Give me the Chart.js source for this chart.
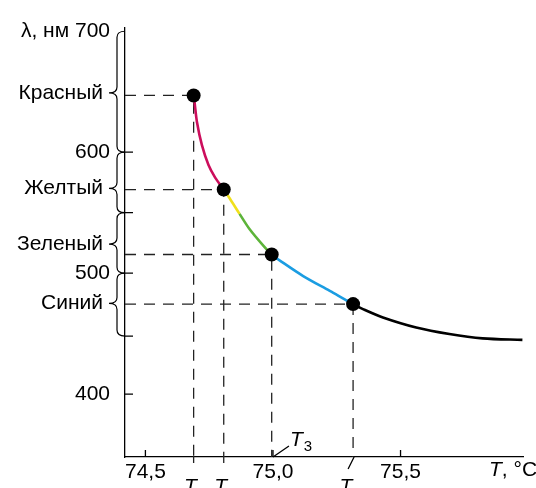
<!DOCTYPE html>
<html>
<head>
<meta charset="utf-8">
<script src="https://cdn.jsdelivr.net/npm/chart.js@4.4.1/dist/chart.umd.min.js"></script>
<style>
body { margin: 0; background: #fff; }
#wrap { width: 536px; height: 488px; }
</style>
</head>
<body>
<div id="wrap"><canvas id="myChart"></canvas></div>
<script>
// curve: temperature (°C) and wavelength (nm)
const curveT = [74.689, 74.6926, 74.702, 74.7215, 74.7473, 74.7734, 74.807, 74.832, 74.8691, 74.9102, 74.9621, 74.995,
    75.0402, 75.1184, 75.2227, 75.314, 75.3527, 75.4309, 75.5613, 75.6914, 75.8215, 75.9777];
const curveL = [646.9, 641.4, 625.0, 605.8, 589.4, 579.0, 569.1, 561.3, 549.0, 535.8, 522.7, 515.4,
    508.5, 497.6, 485.3, 474.4, 470.3, 463.4, 455.1, 449.7, 446.1, 444.8];

// marked points T2, T0, T3, T1
const pointNames = ['2', '0', '3', '1'];
const pointT = [74.689, 74.807, 74.995, 75.314];
const pointL = [646.9, 569.1, 515.4, 474.4];

// colour bands along the wavelength axis
const bandNames = ['Красный', 'Желтый', 'Зеленый', 'Синий'];
const bandTop = [700, 600, 550, 500];
const bandBottom = [600, 550, 500, 448];
const bandMid = [649, 570, 524, 475];
const bandColors = ['#cc0e5c', '#f0e01c', '#5db43a', '#1b9de2'];
// the curve changes colour where lambda reaches these values
const colorBreaks = [569.1, 549.0, 515.4, 474.4];

const xTicks = [74.5, 75.0, 75.5];
const yTicks = [400, 500, 600, 700];
const xMin = 74.42, xMax = 75.98;
const yMin = 348, yMax = 703;

const FONT = '"Liberation Sans", Arial, sans-serif';
const DASH = [11, 8];

function curveColor(ctx) {
    let v = ctx.p0.parsed.y;
    let n = 0;
    for (let i = 0; i < colorBreaks.length; i++) {
        if (v <= colorBreaks[i]) n = i + 1;
    }
    return n < bandColors.length ? bandColors[n] : '#000';
}

function drawT(ctx, x, y, sub, align) {
    ctx.font = 'italic 21px ' + FONT;
    let w1 = ctx.measureText('T').width;
    ctx.font = '15px ' + FONT;
    let w2 = ctx.measureText(sub).width;
    let x0 = align === 'center' ? x - (w1 + w2) / 2 : x;
    ctx.textAlign = 'left';
    ctx.textBaseline = 'alphabetic';
    ctx.font = 'italic 21px ' + FONT;
    ctx.fillText('T', x0, y);
    ctx.font = '15px ' + FONT;
    ctx.fillText(sub, x0 + w1 + 1, y + 5);
}

const decor = {
    id: 'decor',
    afterDraw(chart) {
        const { ctx, chartArea: a } = chart;
        const x = chart.scales.x, y = chart.scales.y;
        ctx.save();
        ctx.strokeStyle = '#000';
        ctx.fillStyle = '#000';
        ctx.lineWidth = 1.3;

        // inward ticks on the y axis: values and band edges
        let yMarks = yTicks.concat(bandBottom).filter(v => v < 700);
        ctx.beginPath();
        yMarks.forEach(v => {
            let py = y.getPixelForValue(v);
            ctx.moveTo(a.left, py);
            ctx.lineTo(a.left + 8, py);
        });
        xTicks.forEach(v => {
            let px = x.getPixelForValue(v);
            ctx.moveTo(px, a.bottom);
            ctx.lineTo(px, a.bottom - 7);
        });
        ctx.stroke();

        // braces for the colour bands
        let bx = a.left - 8;
        ctx.lineWidth = 1.2;
        for (let i = 0; i < bandNames.length; i++) {
            let t = y.getPixelForValue(bandTop[i]);
            let b = y.getPixelForValue(bandBottom[i]);
            let m = y.getPixelForValue(bandMid[i]);
            ctx.beginPath();
            ctx.moveTo(a.left, t);
            ctx.quadraticCurveTo(bx, t, bx, t + 6);
            ctx.lineTo(bx, m - 6);
            ctx.quadraticCurveTo(bx, m, bx - 8, m);
            ctx.quadraticCurveTo(bx, m, bx, m + 6);
            ctx.lineTo(bx, b - 6);
            ctx.quadraticCurveTo(bx, b, a.left, b);
            ctx.stroke();

            ctx.font = '21px ' + FONT;
            ctx.textAlign = 'right';
            ctx.textBaseline = 'middle';
            ctx.fillText(bandNames[i], bx - 14, m);
        }

        // dashed drops continuing under the axis for T2, T0 and leaders for T3, T1
        ctx.lineWidth = 1.3;
        ctx.strokeStyle = '#222';
        ctx.setLineDash([7, 5]);
        ctx.beginPath();
        [0, 1].forEach(i => {
            let px = x.getPixelForValue(pointT[i]);
            ctx.moveTo(px, a.bottom - 1);
            ctx.lineTo(px, a.bottom + 7);
        });
        ctx.stroke();
        ctx.setLineDash([]);
        ctx.strokeStyle = '#000';

        let p3 = x.getPixelForValue(75.0);
        let p1 = x.getPixelForValue(pointT[3]);
        ctx.beginPath();
        ctx.moveTo(p3, a.bottom);
        ctx.lineTo(p3 + 16, a.bottom - 11);
        ctx.moveTo(p1 + 1, a.bottom);
        ctx.lineTo(p1 - 5, a.bottom + 12);
        ctx.stroke();

        drawT(ctx, p3 + 17, a.bottom - 11, pointNames[2], 'left');
        [0, 1, 3].forEach(i => {
            let px = x.getPixelForValue(pointT[i]);
            drawT(ctx, px + (i === 3 ? -3 : 1), 493, pointNames[i], 'center');
        });

        // x axis title
        ctx.font = 'italic 21px ' + FONT;
        ctx.textAlign = 'left';
        ctx.textBaseline = 'middle';
        ctx.fillText('T', 489, 470);
        let w = ctx.measureText('T').width;
        ctx.font = '21px ' + FONT;
        ctx.fillText(', °C', 489 + w, 470);
        ctx.restore();
    }
};

function main() {
    let curve = curveT.map((t, i) => ({ x: t, y: curveL[i] }));
    let dots = pointT.map((t, i) => ({ x: t, y: pointL[i] }));

    let datasets = [{
        data: dots,
        showLine: false,
        pointRadius: 7,
        pointBackgroundColor: '#000',
        pointBorderWidth: 0
    }, {
        data: curve,
        showLine: true,
        borderWidth: 2.6,
        borderColor: '#000',
        pointRadius: 0,
        tension: 0.3,
        segment: { borderColor: curveColor }
    }];

    for (let i = 0; i < pointT.length; i++) {
        datasets.push({
            data: [{ x: xMin, y: pointL[i] }, { x: pointT[i], y: pointL[i] }, { x: pointT[i], y: yMin }],
            showLine: true,
            borderColor: '#222',
            borderWidth: 1.3,
            borderDash: DASH,
            pointRadius: 0,
            tension: 0
        });
    }

    var ctx = document.getElementById('myChart').getContext('2d');
    var chart = new Chart(ctx, {
        type: 'scatter',
        data: { datasets: datasets },
        options: {
            responsive: true,
            maintainAspectRatio: false,
            animation: false,
            layout: { padding: { top: 25, right: 13, left: 0, bottom: 0 } },
            plugins: { legend: { display: false }, tooltip: { enabled: false } },
            scales: {
                x: {
                    type: 'linear',
                    min: xMin,
                    max: xMax,
                    grid: { display: false, drawTicks: false },
                    border: { color: '#000', width: 1.3 },
                    afterBuildTicks: s => { s.ticks = xTicks.map(v => ({ value: v })); },
                    afterFit: s => { s.height = 31; },
                    ticks: {
                        color: '#000',
                        padding: 3,
                        maxRotation: 0,
                        font: { family: FONT, size: 21 },
                        callback: v => v.toFixed(1).replace('.', ',')
                    }
                },
                y: {
                    type: 'linear',
                    min: yMin,
                    max: yMax,
                    grid: { display: false, drawTicks: false },
                    border: { color: '#000', width: 1.3 },
                    afterBuildTicks: s => { s.ticks = yTicks.map(v => ({ value: v })); },
                    afterFit: s => { s.width = 125; },
                    ticks: {
                        color: '#000',
                        padding: 15,
                        font: { family: FONT, size: 21 },
                        callback: v => v === 700 ? 'λ, нм 700' : String(v)
                    }
                }
            }
        },
        plugins: [decor]
    });
}

main();
</script>
</body>
</html>
